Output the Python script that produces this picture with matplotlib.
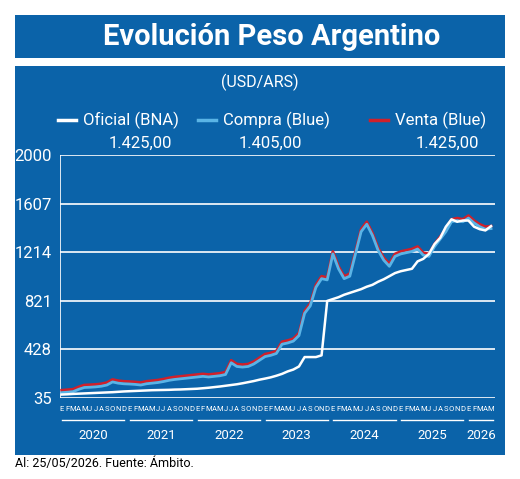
import numpy as np
import matplotlib.pyplot as plt
from matplotlib.patches import Rectangle

# monthly values, Jan 2020 .. May 2026
oficial = [63, 65, 68, 70, 72, 74, 76, 78, 80, 82, 85, 88,
           90, 92, 94, 96, 98, 99, 100, 101, 103, 104, 106, 108,
           110, 114, 118, 123, 128, 134, 140, 146, 154, 163, 172, 183,
           192, 202, 215, 230, 250, 265, 290, 366, 366, 366, 380, 820,
           835, 850, 870, 885, 900, 915, 935, 950, 975, 995, 1020, 1045,
           1060, 1070, 1080, 1140, 1160, 1200, 1280, 1330, 1420, 1480, 1460, 1470,
           1470, 1420, 1400, 1390, 1425]
compra = [78, 82, 86, 105, 120, 122, 125, 130, 140, 165, 155, 150,
          148, 145, 140, 150, 155, 160, 168, 178, 185, 190, 195, 200,
          205, 210, 205, 210, 215, 225, 320, 290, 285, 290, 310, 340,
          370, 380, 395, 470, 480, 495, 540, 720, 780, 930, 1000, 990,
          1200, 1080, 1000, 1020, 1200, 1380, 1440, 1350, 1230, 1150, 1100, 1180,
          1200, 1210, 1220, 1240, 1190, 1180, 1260, 1320, 1380, 1460, 1470, 1460,
          1490, 1450, 1420, 1400, 1405]
venta = [v + 20 for v in compra]

meses = ["E", "F", "M", "A", "M", "J", "J", "A", "S", "O", "N", "D"]
anios = ["2020", "2021", "2022", "2023", "2024", "2025", "2026"]
yticks = [35, 428, 821, 1214, 1607, 2000]

bg = "#0b63a9"
plt.rcParams['font.family'] = ['Roboto', 'DejaVu Sans']

fig = plt.figure(figsize=(5.2, 4.79), dpi=100)
fig.patch.set_facecolor("white")
W, H = 520, 479
# header box and main box
fig.patches.append(Rectangle((15 / W, 1 - 58 / H), 490 / W, 43 / H, transform=fig.transFigure,
                             facecolor=bg, edgecolor="none", zorder=-10))
fig.patches.append(Rectangle((15 / W, 1 - 455 / H), 490 / W, 389 / H, transform=fig.transFigure,
                             facecolor=bg, edgecolor="none", zorder=-10))
fig.text(272 / W, 1 - 37 / H, "Evolución Peso Argentino", color="white", fontsize=21,
         fontweight="bold", ha="center", va="center", fontstretch="condensed")
fig.text(260 / W, 1 - 82 / H, "(USD/ARS)", color="white", fontsize=11.5, ha="center", va="center")
fig.text(15 / W, 1 - 463 / H, "Al: 25/05/2026. Fuente: Ámbito.", color="black", fontsize=9,
         ha="left", va="center")

# legend
leg = [(58, "white", "Oficial (BNA)", "1.425,00", 140),
       (198, "#5ab4e6", "Compra (Blue)", "1.405,00", 270),
       (370, "#d0202a", "Venta (Blue)", "1.425,00", 447)]
for x0, c, lab, val, vx in leg:
    fig.lines.append(plt.Line2D([x0 / W, (x0 + 18) / W], [1 - 120 / H] * 2, color=c, lw=2.5,
                                transform=fig.transFigure))
    fig.text((x0 + 25) / W, 1 - 120 / H, lab, color="white", fontsize=12, va="center")
    fig.text(vx / W, 1 - 143 / H, val, color="white", fontsize=12, ha="center", va="center")

ax = fig.add_axes([60 / W, 1 - 398 / H, 435 / W, 243 / H])
ax.set_facecolor(bg)
for s in ax.spines.values():
    s.set_visible(False)
for y in yticks:
    ax.axhline(y, color="white", lw=1.2, zorder=1)
ax.axvline(-0.3, color="white", lw=1.2, zorder=1)
x = np.arange(len(compra))
ax.plot(x, venta, color="#d0202a", lw=2, zorder=2)
ax.plot(x, compra, color="#5ab4e6", lw=2, zorder=3)
ax.plot(x, oficial, color="white", lw=1.8, zorder=4)
ax.set_xlim(-0.3, 76.7)
ax.set_ylim(35, 2000)
ax.set_yticks(yticks)
ax.set_yticklabels([str(y) for y in yticks], color="white", fontsize=12)
ax.tick_params(axis="y", length=0, pad=6)
ax.set_xticks([])

tr = ax.get_xaxis_transform()
for i in range(len(compra)):
    ax.text(i, -0.045, meses[i % 12], transform=tr, color="white", fontsize=5.5,
            ha="center", va="center", fontstretch="condensed")
for k, a in enumerate(anios):
    a0 = k * 12 - 0.3
    a1 = min(k * 12 + 11.5, 76.7)
    ax.plot([a0 + 0.4, a1 - 0.4], [-0.09, -0.09], transform=tr, color="white", lw=1, clip_on=False)
    ax.text((a0 + a1) / 2, -0.155, a, transform=tr, color="white", fontsize=9.5,
            ha="center", va="center")

fig.savefig("out.png", dpi=100, facecolor="white")
